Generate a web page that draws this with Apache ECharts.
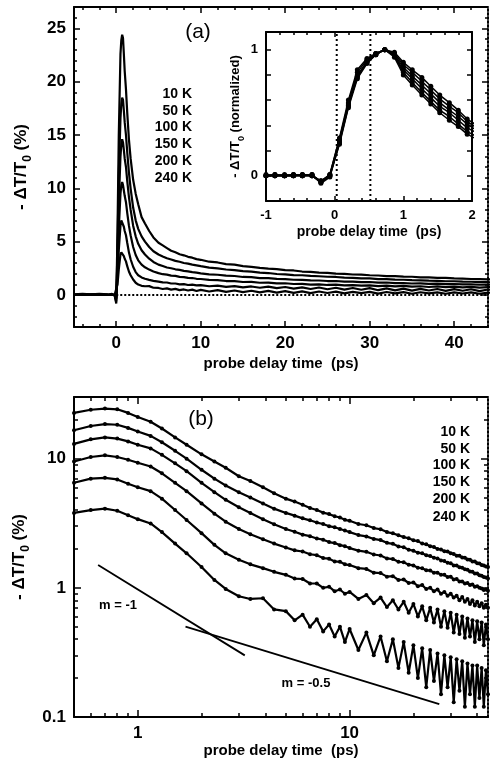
<!DOCTYPE html>
<html>
<head>
<meta charset="utf-8">
<script src="https://cdn.jsdelivr.net/npm/echarts@6/dist/echarts.min.js"></script>
<style>
  html, body { margin: 0; padding: 0; background: #fff; }
  #chart { width: 492px; height: 763px; }
</style>
</head>
<body>
<div id="chart"></div>
<script>
// probe delay (ps), shared by panel (a) and panel (b)
const delay = [-5, -4, -3, -2, -1, -0.5, -0.2, 0, 0.15, 0.3,
  0.5, 0.6, 0.7, 0.8, 0.9, 1.0, 1.15, 1.3, 1.5, 1.7,
  2.0, 2.3, 2.6, 3.0, 3.4, 3.9, 4.4, 5.0, 5.5, 6.0,
  6.5, 7.0, 7.5, 8.0, 8.5, 9.0, 9.5, 10, 11, 12,
  13, 14, 15, 16, 17, 18, 19, 20, 21, 22,
  23, 24, 25, 26, 27, 28, 29, 30, 31, 32,
  33, 34, 35, 36, 37, 38, 39, 40, 41, 42,
  43, 44, 45];

// -dT/T0 (%) per temperature
const k10 = [0.05, 0.1, 0.05, 0.1, 0.05, 0.1, 0.0, -0.8, 6.0, 15.0,
  22.6, 23.9, 24.4, 24.1, 22.6, 21.0, 19.3, 17.1, 14.6, 12.8,
  10.8, 9.5, 8.5, 7.3, 6.7, 6.0, 5.4, 4.9, 4.65, 4.4,
  4.15, 4.0, 3.82, 3.72, 3.58, 3.5, 3.36, 3.3, 3.12, 3.05,
  2.9, 2.84, 2.7, 2.64, 2.55, 2.47, 2.42, 2.33, 2.3, 2.2,
  2.17, 2.1, 2.07, 2.0, 1.98, 1.92, 1.91, 1.85, 1.83, 1.77,
  1.77, 1.72, 1.71, 1.66, 1.65, 1.6, 1.6, 1.55, 1.54, 1.5,
  1.49, 1.46, 1.45];
const k50 = [0.05, 0.0, 0.05, 0.05, 0.0, 0.05, 0.0, -0.6, 4.5, 11.2,
  16.6, 17.9, 18.5, 18.3, 17.3, 16.2, 15.0, 13.4, 11.5, 10.0,
  8.2, 7.0, 6.2, 5.5, 5.0, 4.5, 4.1, 3.8, 3.62, 3.45,
  3.33, 3.2, 3.12, 3.0, 2.94, 2.85, 2.78, 2.7, 2.56, 2.5,
  2.39, 2.34, 2.23, 2.19, 2.09, 2.06, 1.97, 1.94, 1.87, 1.85,
  1.79, 1.76, 1.71, 1.69, 1.63, 1.61, 1.56, 1.55, 1.49, 1.49,
  1.44, 1.43, 1.39, 1.38, 1.34, 1.33, 1.29, 1.29, 1.25, 1.24,
  1.21, 1.2, 1.18];
const k100 = [0.0, 0.05, 0.0, 0.0, 0.05, 0.0, 0.0, -0.4, 3.5, 8.6,
  13.0, 14.1, 14.6, 14.3, 13.6, 12.8, 12.0, 10.7, 9.2, 8.0,
  6.5, 5.5, 4.8, 4.2, 3.8, 3.4, 3.1, 2.85, 2.72, 2.58,
  2.51, 2.41, 2.36, 2.26, 2.22, 2.14, 2.1, 2.03, 1.94, 1.9,
  1.81, 1.78, 1.69, 1.67, 1.59, 1.58, 1.51, 1.49, 1.43, 1.42,
  1.37, 1.36, 1.31, 1.31, 1.26, 1.26, 1.21, 1.22, 1.16, 1.17,
  1.12, 1.12, 1.08, 1.09, 1.05, 1.06, 1.02, 1.03, 1.0, 0.99,
  0.96, 0.97, 0.95];
const k150 = [0.0, 0.0, 0.05, 0.0, 0.0, 0.05, 0.0, -0.3, 2.5, 6.2,
  9.5, 10.3, 10.6, 10.3, 9.8, 9.3, 8.7, 7.7, 6.5, 5.6,
  4.5, 3.75, 3.25, 2.85, 2.6, 2.38, 2.2, 2.05, 1.95, 1.91,
  1.82, 1.79, 1.7, 1.68, 1.6, 1.59, 1.52, 1.5, 1.42, 1.4,
  1.31, 1.3, 1.22, 1.23, 1.15, 1.16, 1.09, 1.1, 1.03, 1.05,
  0.98, 1.0, 0.94, 0.97, 0.9, 0.93, 0.87, 0.9, 0.84, 0.87,
  0.8, 0.85, 0.78, 0.82, 0.75, 0.8, 0.73, 0.78, 0.72, 0.76,
  0.7, 0.74, 0.7];
const k200 = [0.0, 0.05, 0.0, 0.0, 0.0, 0.0, 0.0, -0.2, 1.7, 4.2,
  6.5, 7.0, 7.1, 6.9, 6.4, 6.0, 5.6, 4.9, 4.0, 3.35,
  2.65, 2.15, 1.85, 1.65, 1.52, 1.42, 1.33, 1.26, 1.18, 1.17,
  1.08, 1.08, 1.0, 1.02, 0.94, 0.97, 0.9, 0.93, 0.82, 0.88,
  0.76, 0.84, 0.71, 0.8, 0.68, 0.78, 0.64, 0.75, 0.6, 0.72,
  0.56, 0.7, 0.54, 0.68, 0.5, 0.66, 0.49, 0.64, 0.45, 0.62,
  0.44, 0.6, 0.41, 0.58, 0.42, 0.56, 0.38, 0.55, 0.4, 0.54,
  0.36, 0.52, 0.4];
const k240 = [0.0, 0.0, 0.0, 0.05, 0.0, 0.0, 0.0, -0.1, 1.0, 2.4,
  3.8, 4.0, 4.1, 3.95, 3.65, 3.4, 3.15, 2.7, 2.2, 1.85,
  1.45, 1.15, 0.98, 0.86, 0.82, 0.83, 0.68, 0.66, 0.56, 0.62,
  0.5, 0.57, 0.46, 0.52, 0.42, 0.5, 0.38, 0.48, 0.33, 0.45,
  0.3, 0.42, 0.27, 0.4, 0.24, 0.38, 0.22, 0.36, 0.2, 0.34,
  0.17, 0.33, 0.19, 0.31, 0.15, 0.3, 0.17, 0.29, 0.13, 0.28,
  0.16, 0.27, 0.12, 0.26, 0.15, 0.25, 0.12, 0.25, 0.14, 0.24,
  0.12, 0.23, 0.15];
const temps = ['10 K', '50 K', '100 K', '150 K', '200 K', '240 K'];

// inset: normalized signal around zero delay
const insetDelay = [-1.0, -0.87, -0.73, -0.6, -0.47, -0.33, -0.2, -0.07, 0.07, 0.2,
  0.33, 0.47, 0.6, 0.73, 0.87, 1.0, 1.13, 1.27, 1.4, 1.53,
  1.67, 1.8, 1.93, 2.07];
const n10 = [0, 0.01, 0, 0.01, 0, 0, -0.04, 0.01, 0.3, 0.6, 0.84, 0.93, 0.97, 1.0, 0.98, 0.9, 0.84, 0.78, 0.71, 0.64, 0.58, 0.52, 0.45, 0.4];
const n50 = [0, 0, 0.01, 0, 0, 0.01, -0.05, 0, 0.28, 0.58, 0.82, 0.92, 0.97, 1.0, 0.97, 0.88, 0.82, 0.75, 0.68, 0.61, 0.55, 0.5, 0.43, 0.38];
const n100 = [0.01, 0, 0, 0, 0.01, 0, -0.05, 0.01, 0.29, 0.57, 0.8, 0.9, 0.96, 1.0, 0.96, 0.86, 0.79, 0.72, 0.65, 0.58, 0.52, 0.47, 0.41, 0.36];
const n150 = [0, 0, 0, 0.01, 0, 0, -0.04, 0, 0.27, 0.56, 0.78, 0.91, 0.97, 1.0, 0.95, 0.84, 0.77, 0.69, 0.62, 0.55, 0.5, 0.44, 0.38, 0.34];
const n200 = [0, 0.01, 0, 0, 0, 0.01, -0.06, -0.01, 0.26, 0.55, 0.79, 0.9, 0.96, 1.0, 0.95, 0.82, 0.74, 0.66, 0.59, 0.52, 0.47, 0.41, 0.35, 0.31];
const n240 = [0, 0, 0, 0, 0.01, 0, -0.05, 0, 0.25, 0.54, 0.77, 0.89, 0.96, 1.0, 0.94, 0.8, 0.72, 0.64, 0.57, 0.5, 0.44, 0.39, 0.33, 0.29];
const insetMarks = [0.03, 0.52];

// guide lines in panel (b) and the zero line in panel (a)
const slopeOne = [[0.65, 1.5], [3.2, 0.3]];
const slopeHalf = [[1.68, 0.5], [26.5, 0.126]];
const zeroLine = [[0, 0], [44, 0]];

// ticks
const aXMajor = [0, 10, 20, 30, 40];
const aXMinor = [-4, -2, 2, 4, 6, 8, 12, 14, 16, 18, 22, 24, 26, 28, 32, 34, 36, 38, 42];
const aYMajor = [0, 5, 10, 15, 20, 25];
const aYMinor = [-2, -1, 1, 2, 3, 4, 6, 7, 8, 9, 11, 12, 13, 14, 16, 17, 18, 19, 21, 22, 23, 24, 26];
const inXMajor = [-1, 0, 1, 2];
const inXMinor = [-0.8, -0.6, -0.4, -0.2, 0.2, 0.4, 0.6, 0.8, 1.2, 1.4, 1.6, 1.8];
const inYTicks = [0, 0.2, 0.4, 0.6, 0.8, 1];
const inYLabels = [0, 1];
const bXMajor = [1, 10];
const bXMinor = [0.6, 0.7, 0.8, 0.9, 2, 3, 4, 5, 6, 7, 8, 9, 20, 30, 40];
const bYMajor = [0.1, 1, 10];
const bYMinor = [0.2, 0.3, 0.4, 0.5, 0.6, 0.7, 0.8, 0.9, 2, 3, 4, 5, 6, 7, 8, 9, 20];

const F = '"Liberation Sans", Arial, Helvetica, sans-serif';

function axis(grid, pos, type, min, max, ticks, len, labels, line, size) {
  const a = {
    gridIndex: grid, position: pos, type: type, min: min, max: max,
    axisLine: { show: line !== 'none', onZero: false,
      lineStyle: { color: '#000', width: 2, type: line === 'dotted' ? 'dotted' : 'solid' } },
    axisTick: { show: ticks.length > 0, inside: true, length: len, customValues: ticks,
      lineStyle: { color: '#000', width: 1.5 } },
    axisLabel: { show: !!labels, customValues: labels || undefined, color: '#000',
      fontFamily: F, fontWeight: 'bold', fontSize: size || 17, margin: 8 },
    splitLine: { show: false },
    splitArea: { show: false }
  };
  if (type === 'log') a.logBase = 10;
  return a;
}

function yTitle(a, tail, size, gap) {
  a.name = '{b|- ΔT/T}{s|0}{b| ' + tail + '}';
  a.nameLocation = 'middle';
  a.nameGap = gap;
  a.nameTextStyle = { rich: {
    b: { fontFamily: F, fontWeight: 'bold', fontSize: size, color: '#000' },
    s: { fontFamily: F, fontWeight: 'bold', fontSize: Math.round(size * 0.7), color: '#000',
      verticalAlign: 'bottom', lineHeight: size + 8 }
  } };
  return a;
}

function xTitle(a, size, gap) {
  a.name = 'probe delay time  (ps)';
  a.nameLocation = 'middle';
  a.nameGap = gap;
  a.nameTextStyle = { fontFamily: F, fontWeight: 'bold', fontSize: size, color: '#000' };
  return a;
}

const rects = [
  { left: 74, top: 7, width: 414, height: 320 },
  { left: 266, top: 32, width: 206, height: 169 },
  { left: 74, top: 397, width: 414, height: 320 }
];
const grid = rects.concat(rects).map(r => Object.assign({ outerBoundsMode: 'none' }, r));

const xAxis = [
  xTitle(axis(0, 'bottom', 'value', -5, 44, aXMajor, 6, aXMajor), 15, 29),
  axis(0, 'top', 'value', -5, 44, aXMajor, 6),
  xTitle(axis(1, 'bottom', 'value', -1, 2, inXMajor, 5, inXMajor, 'solid', 13), 14, 24),
  axis(1, 'top', 'value', -1, 2, inXMajor, 5),
  xTitle(axis(2, 'bottom', 'log', 0.5, 45, bXMajor, 7, bXMajor), 15, 22),
  axis(2, 'top', 'log', 0.5, 45, bXMajor, 7),
  axis(3, 'bottom', 'value', -5, 44, aXMinor, 3, null, 'none'),
  axis(3, 'top', 'value', -5, 44, aXMinor, 3, null, 'none'),
  axis(4, 'bottom', 'value', -1, 2, inXMinor, 3, null, 'none'),
  axis(4, 'top', 'value', -1, 2, inXMinor, 3, null, 'none'),
  axis(5, 'bottom', 'log', 0.5, 45, bXMinor, 4, null, 'none'),
  axis(5, 'top', 'log', 0.5, 45, bXMinor, 4, null, 'none')
];
const yAxis = [
  yTitle(axis(0, 'left', 'value', -3, 27, aYMajor, 6, aYMajor), '(%)', 17, 40),
  axis(0, 'right', 'value', -3, 27, aYMajor, 6, null, 'dotted'),
  yTitle(axis(1, 'left', 'value', -0.2, 1.14, inYTicks, 5, inYLabels, 'solid', 13), '(normalized)', 13, 20),
  axis(1, 'right', 'value', -0.2, 1.14, inYTicks, 5),
  yTitle(axis(2, 'left', 'log', 0.1, 30, bYMajor, 7, bYMajor), '(%)', 17, 40),
  axis(2, 'right', 'log', 0.1, 30, bYMajor, 7, null, 'dotted'),
  axis(3, 'left', 'value', -3, 27, aYMinor, 3, null, 'none'),
  axis(3, 'right', 'value', -3, 27, aYMinor, 3, null, 'none'),
  axis(4, 'left', 'value', -0.2, 1.14, [], 3, null, 'none'),
  axis(4, 'right', 'value', -0.2, 1.14, [], 3, null, 'none'),
  axis(5, 'left', 'log', 0.1, 30, bYMinor, 4, null, 'none'),
  axis(5, 'right', 'log', 0.1, 30, bYMinor, 4, null, 'none')
];

const curves = [k10, k50, k100, k150, k200, k240];
const insetCurves = [n10, n50, n100, n150, n200, n240];
const series = [];

series.push({ type: 'line', xAxisIndex: 0, yAxisIndex: 0, data: zeroLine, symbol: 'none',
  lineStyle: { color: '#000', width: 2, type: [2, 2] } });
insetMarks.forEach(t => {
  series.push({ type: 'line', xAxisIndex: 2, yAxisIndex: 2, data: [[t, -0.2], [t, 1.14]], symbol: 'none',
    lineStyle: { color: '#000', width: 2, type: [2, 3] } });
});

curves.forEach((c, i) => {
  const pts = delay.map((t, j) => [t, c[j]]);
  series.push({ name: temps[i], type: 'line', xAxisIndex: 0, yAxisIndex: 0, data: pts,
    symbol: 'none', lineStyle: { color: '#000', width: 2.2 } });
  series.push({ name: temps[i], type: 'line', xAxisIndex: 4, yAxisIndex: 4,
    data: pts.filter(p => p[0] >= 0.5), symbol: 'circle', symbolSize: 4,
    itemStyle: { color: '#000' }, lineStyle: { color: '#000', width: 2.2 } });
});
insetCurves.forEach((c, i) => {
  series.push({ name: temps[i], type: 'line', xAxisIndex: 2, yAxisIndex: 2,
    data: insetDelay.map((t, j) => [t, c[j]]), symbol: 'circle', symbolSize: 5,
    itemStyle: { color: '#000' }, lineStyle: { color: '#000', width: 1.5 } });
});
[slopeOne, slopeHalf].forEach(d => {
  series.push({ type: 'line', xAxisIndex: 4, yAxisIndex: 4, data: d, symbol: 'none',
    lineStyle: { color: '#000', width: 1.8 } });
});

function label(text, x, y, size, align, weight) {
  return { type: 'text', x: x, y: y, z: 10, style: { text: text, fill: '#000',
    font: (weight || 'bold') + ' ' + size + 'px ' + F,
    textAlign: align || 'center', textVerticalAlign: 'middle' } };
}
const graphic = [
  label('(a)', 198, 32, 21, 'center', 'normal'),
  label('(b)', 201, 419, 21, 'center', 'normal'),
  label('m = -1', 118, 605, 13),
  label('m = -0.5', 306, 683, 13)
];
const legendA = [94, 111, 127, 144, 161, 178];
const legendB = [432, 449, 465, 482, 499, 517];
temps.forEach((t, i) => {
  graphic.push(label(t, 192, legendA[i], 14, 'right'));
  graphic.push(label(t, 470, legendB[i], 14, 'right'));
});

const chart = echarts.init(document.getElementById('chart'));
chart.setOption({
  animation: false,
  backgroundColor: '#fff',
  grid: grid,
  xAxis: xAxis,
  yAxis: yAxis,
  series: series,
  graphic: graphic
});
</script>
</body>
</html>
